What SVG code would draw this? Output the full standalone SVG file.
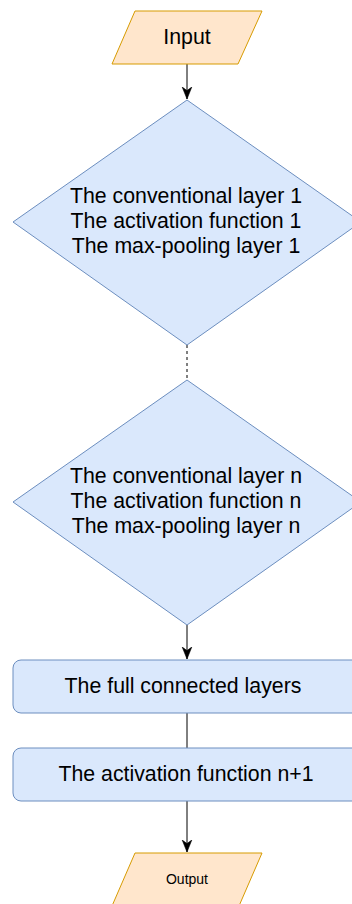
<svg xmlns="http://www.w3.org/2000/svg" width="352" height="904" viewBox="0 0 352 904">
<style>
.io{fill:#ffe6cc;stroke:#d79b00;stroke-width:1}
.blue{fill:#dae8fc;stroke:#6c8ebf;stroke-width:1}
.t{font-family:"Liberation Sans",Arial,sans-serif;font-size:21.3px;fill:#000;text-anchor:middle}
.ts{font-family:"Liberation Sans",Arial,sans-serif;font-size:14px;fill:#000;text-anchor:middle}
.edge{stroke:#000;stroke-width:1;fill:none}
.dash{stroke:#000;stroke-width:1;fill:none;stroke-dasharray:3 3}
</style>
<defs>
<marker id="arr" markerUnits="userSpaceOnUse" markerWidth="12" markerHeight="12" viewBox="0 0 10 10" refX="10" refY="5" orient="auto">
<path d="M0,1 L10,5 L0,9 L3,5 Z" fill="#000" stroke="#000" stroke-width="0.5"/>
</marker>
</defs>
<g id="connectors">
<line class="edge" x1="187" y1="64" x2="187" y2="99" marker-end="url(#arr)"/>
<line class="dash" x1="187" y1="345" x2="187" y2="380"/>
<line class="edge" x1="187" y1="625" x2="187" y2="659" marker-end="url(#arr)"/>
<line class="edge" x1="187" y1="713" x2="187" y2="748"/>
<line class="edge" x1="187" y1="801" x2="187" y2="852" marker-end="url(#arr)"/>
</g>
<g id="input">
<polygon class="io" points="135,11 262,11 238,64 112,64"/>
<text class="t" x="187" y="44">Input</text>
</g>
<g id="block1">
<polygon class="blue" points="187,100 361,222 187,345 13,222"/>
<text class="t" x="186" y="203">The conventional layer 1</text>
<text class="t" x="186" y="228">The activation function 1</text>
<text class="t" x="186" y="253">The max-pooling layer 1</text>
</g>
<g id="blockn">
<polygon class="blue" points="187,380 361,502 187,625 13,502"/>
<text class="t" x="186" y="483">The conventional layer n</text>
<text class="t" x="186" y="508">The activation function n</text>
<text class="t" x="186" y="533">The max-pooling layer n</text>
</g>
<g id="fc">
<rect class="blue" x="13" y="660" width="348" height="53" rx="8" ry="8"/>
<text class="t" x="183" y="693">The full connected layers</text>
</g>
<g id="act">
<rect class="blue" x="13" y="748" width="348" height="53" rx="8" ry="8"/>
<text class="t" x="186" y="781">The activation function n+1</text>
</g>
<g id="output">
<polygon class="io" points="135,853 262,853 239,906 112,906"/>
<text class="ts" x="187" y="884">Output</text>
</g>
</svg>
